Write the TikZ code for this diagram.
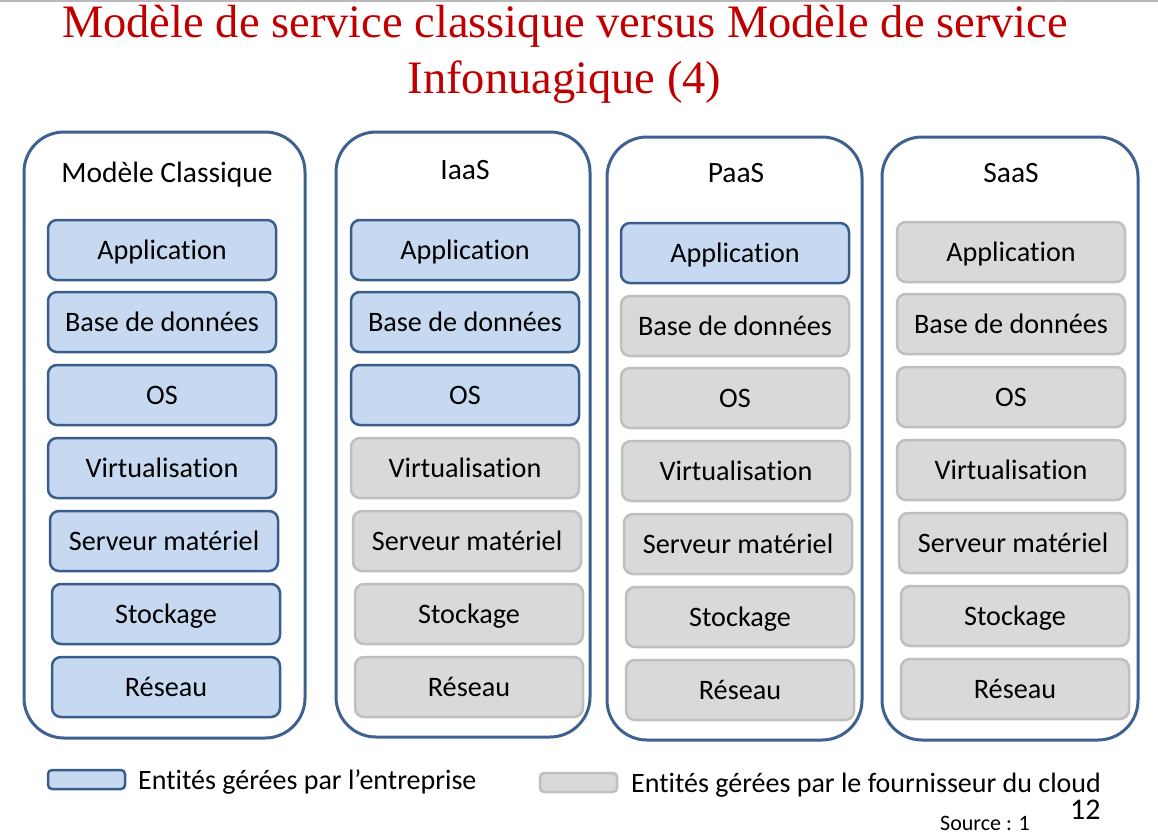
\documentclass[tikz,border=0pt]{standalone}
\usepackage{fontspec}
\setmainfont[Ligatures=NoCommon]{Carlito}
\newfontfamily\titlefont{Liberation Serif}
\definecolor{titlered}{HTML}{C00000}
\definecolor{bfill}{HTML}{C6D9F1}
\definecolor{bdraw}{HTML}{3A5E8C}
\definecolor{gfill}{HTML}{D9D9D9}
\definecolor{gdraw}{HTML}{BFBFBF}
\definecolor{odraw}{HTML}{3E6191}
\begin{document}
\begin{tikzpicture}[x=1pt,y=-1pt,
  cell/.style={rounded corners=9pt, line width=2.5pt, minimum width=228pt, minimum height=60pt,
    inner sep=0pt, text height=18pt, text depth=0pt, font=\fontsize{28.2}{34}\selectfont, anchor=center},
  bcell/.style={cell, fill=bfill, draw=bdraw},
  gcell/.style={cell, fill=gfill, draw=gdraw},
  colbox/.style={draw=odraw, line width=3pt, rounded corners=40pt, inner sep=0pt, fill=white},
  hdr/.style={font=\fontsize{29.5}{35}\selectfont, anchor=base, inner sep=0pt},
  ttl/.style={font=\titlefont\fontsize{46.5}{56}\selectfont, text=titlered, anchor=base, inner sep=0pt},
  legtext/.style={font=\fontsize{28}{34}\selectfont, anchor=base west, inner sep=0pt}
]
\useasboundingbox (0,0) rectangle (1158,835);
\fill[white] (0,0) rectangle (1158,835);
\draw[gray!55, line width=1.5pt] (0,0.75) -- (1158,0.75);

% title
\node[ttl] (title1) at (565,37) {Modèle de service classique versus Modèle de service};
\node[ttl] (title2) at (564.5,93) {Infonuagique (4)};

% columns
\node[colbox, minimum width=281pt, minimum height=606pt] (col1) at (164.5,435) {};
\node[colbox, minimum width=254pt, minimum height=605pt] (col2) at (463,434.5) {};
\node[colbox, minimum width=255pt, minimum height=603pt] (col3) at (734.5,438.5) {};
\node[colbox, minimum width=256pt, minimum height=603pt] (col4) at (1010,438.5) {};

% headers
\node[hdr] (h1) at (167,182) {Modèle Classique};
\node[hdr] (h2) at (465,179) {IaaS};
\node[hdr] (h3) at (736,182) {PaaS};
\node[hdr] (h4) at (1011,182) {SaaS};

% cells
\foreach \n/\x/\y/\t/\s in {
  c1a/162/250/Application/bcell, c1b/162/322/Base de données/bcell, c1c/162/395/OS/bcell,
  c1d/162/468/Virtualisation/bcell, c1e/164/541/Serveur matériel/bcell,
  c1f/166/614/Stockage/bcell, c1g/166/687/Réseau/bcell,
  c2a/465/250/Application/bcell, c2b/465/322/Base de données/bcell, c2c/465/395/OS/bcell,
  c2d/465/468/Virtualisation/gcell, c2e/467/541/Serveur matériel/gcell,
  c2f/469/614/Stockage/gcell, c2g/469/687/Réseau/gcell,
  c3a/735/253/Application/bcell, c3b/735/326/Base de données/gcell, c3c/735/398/OS/gcell,
  c3d/736/471/Virtualisation/gcell, c3e/738/544/Serveur matériel/gcell,
  c3f/740/617/Stockage/gcell, c3g/740/690/Réseau/gcell,
  c4a/1011/252/Application/gcell, c4b/1011/324/Base de données/gcell, c4c/1011/397/OS/gcell,
  c4d/1011/470/Virtualisation/gcell, c4e/1013/543/Serveur matériel/gcell,
  c4f/1015/616/Stockage/gcell, c4g/1015/689/Réseau/gcell}
  \node[\s] (\n) at (\x,\y) {\t};

% legend
\node[bcell, minimum width=77pt, minimum height=19pt, rounded corners=4pt, line width=2.5pt] (legb) at (86.5,779.5) {};
\node[legtext] (legbt) at (138,789) {Entités gérées par l’entreprise};
\node[gcell, minimum width=77pt, minimum height=19pt, rounded corners=4pt, line width=2.5pt] (legg) at (578.5,782.5) {};
\node[legtext] (leggt) at (631,792) {Entités gérées par le fournisseur du cloud};

\node[font=\fontsize{30}{36}\selectfont, anchor=base west, inner sep=0pt] (pagenum) at (1070,819) {12};
\node[font=\fontsize{22}{26}\selectfont, anchor=base west, inner sep=0pt] (source) at (940,830) {Source : 1};
\end{tikzpicture}
\end{document}
